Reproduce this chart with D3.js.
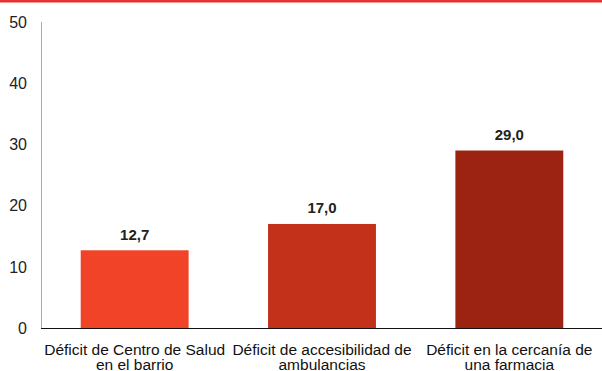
<!DOCTYPE html>
<html>
<head>
<meta charset="utf-8">
<script src="https://cdn.jsdelivr.net/npm/d3@7"></script>
<style>
  html, body { margin: 0; padding: 0; background: #fff; }
  svg { display: block; font-family: "Liberation Sans", Arial, sans-serif; }
</style>
</head>
<body>
<svg id="chart" width="602" height="371"></svg>
<script>
// Category labels (two lines each) and their values
const categories = [
  ["Déficit de Centro de Salud", "en el barrio"],
  ["Déficit de accesibilidad de", "ambulancias"],
  ["Déficit en la cercanía de", "una farmacia"]
];
const values = [12.7, 17.0, 29.0];
const barColors = ["#f04328", "#c4311b", "#9c2311"];
const yTicks = [0, 10, 20, 30, 40, 50];

(function draw() {
  const svg = d3.select("#chart");
  const W = 602;
  const plotLeft = 41, plotRight = 603, plotTop = 22, plotBottom = 328;

  // red strip across the top
  svg.append("rect").attr("x", 0).attr("y", 0).attr("width", W).attr("height", 2.5).attr("fill", "#e8302c");

  const x = d3.scaleBand()
    .domain(d3.range(categories.length))
    .range([plotLeft, plotRight])
    .paddingInner(0.424)
    .paddingOuter(0.212);

  const y = d3.scaleLinear().domain([0, 50]).range([plotBottom, plotTop]);

  // y axis: vertical line plus tick labels
  svg.append("line")
    .attr("x1", plotLeft + 0.5).attr("x2", plotLeft + 0.5)
    .attr("y1", y(50)).attr("y2", y(0))
    .attr("stroke", "#aaaaaa").attr("stroke-width", 1);

  svg.selectAll(".ytick")
    .data(yTicks)
    .join("text")
    .attr("class", "ytick")
    .attr("x", 27)
    .attr("y", d => y(d))
    .attr("dy", "0.36em")
    .attr("text-anchor", "end")
    .attr("font-size", 16)
    .attr("fill", "#222")
    .text(d => d);

  // bars
  svg.selectAll(".bar")
    .data(values)
    .join("rect")
    .attr("class", "bar")
    .attr("x", (d, i) => x(i))
    .attr("y", d => y(d))
    .attr("width", x.bandwidth())
    .attr("height", d => y(0) - y(d))
    .attr("fill", (d, i) => barColors[i]);

  // baseline
  svg.append("line")
    .attr("x1", plotLeft).attr("x2", W)
    .attr("y1", y(0) + 0.5).attr("y2", y(0) + 0.5)
    .attr("stroke", "#111").attr("stroke-width", 1.2);

  // value labels
  const fmt = v => d3.format(".1f")(v).replace(".", ",");
  svg.selectAll(".val")
    .data(values)
    .join("text")
    .attr("class", "val")
    .attr("x", (d, i) => x(i) + x.bandwidth() / 2)
    .attr("y", d => y(d) - 10.5)
    .attr("text-anchor", "middle")
    .attr("font-size", 15)
    .attr("font-weight", "bold")
    .attr("fill", "#222")
    .text(fmt);

  // category labels
  svg.selectAll(".cat")
    .data(categories)
    .join("text")
    .attr("class", "cat")
    .attr("text-anchor", "middle")
    .attr("font-size", 15.5)
    .attr("fill", "#111")
    .each(function(lines, i) {
      d3.select(this).selectAll("tspan")
        .data(lines)
        .join("tspan")
        .attr("x", x(i) + x.bandwidth() / 2)
        .attr("y", (d, j) => 355 + j * 14.5)
        .text(d => d);
    });
})();
</script>
</body>
</html>
